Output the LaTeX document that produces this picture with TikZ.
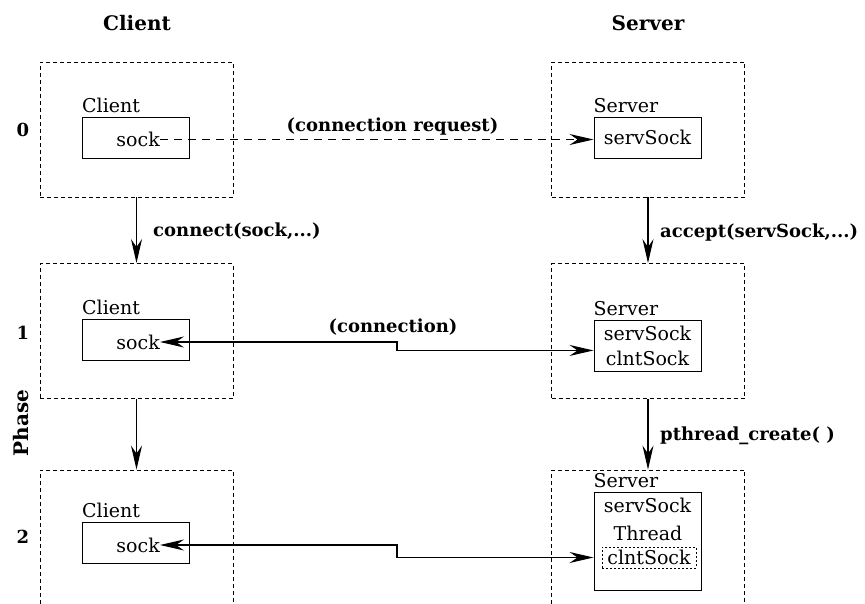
\documentclass[tikz,border=0pt]{standalone}
\usepackage{fontspec}
\setmainfont{DejaVu Serif}
\usetikzlibrary{arrows.meta, positioning}

\begin{document}
\begin{tikzpicture}[
        x=1pt, y=-1pt,
        frame/.style={draw, dash pattern=on 4pt off 3pt, line width=0.9pt, minimum width=193pt, minimum height=135pt, inner sep=0pt},
        sockbox/.style={draw, line width=1pt, minimum width=107pt, minimum height=41pt, inner sep=0pt, font=\fontsize{19}{22}\selectfont},
        txt/.style={inner sep=0pt, font=\fontsize{19}{22}\selectfont},
        lbl/.style={inner sep=0pt, font=\bfseries\fontsize{18}{21}\selectfont},
        hdr/.style={inner sep=0pt, font=\bfseries\fontsize{20}{24}\selectfont},
        line/.style={draw, line width=1.1pt, -{Stealth[length=24pt, width=11pt, inset=8pt]}},
        dline/.style={draw, line width=1.1pt, {Stealth[length=24pt, width=11pt, inset=8pt]}-{Stealth[length=24pt, width=11pt, inset=8pt]}}
    ]
        \useasboundingbox (0,0) rectangle (865,603);

        % headers and phase numbers
        \node [hdr, anchor=base] (hclient) at (137,30) {Client};
        \node [hdr, anchor=base] (hserver) at (648,30) {Server};
        \node [hdr, rotate=90] (phase) at (21,423) {Phase};
        \node [lbl] (p0) at (23,130) {0};
        \node [lbl] (p1) at (23,333) {1};
        \node [lbl] (p2) at (23,537) {2};

        % phase frames
        \node [frame] (c0) at (136.5,129.5) {};
        \node [frame] (c1) at (136.5,331) {};
        \node [frame] (c2) at (136.5,537.5) {};
        \node [frame] (s0) at (648,129.5) {};
        \node [frame] (s1) at (648,331) {};
        \node [frame] (s2) at (648,537.5) {};

        % client side
        \node [sockbox] (cb0) at (136,137.5) {};
        \node [txt, anchor=base west, yshift=4pt] (cl0) at (cb0.north west) {Client};
        \node [txt, anchor=east] (ck0) at (160,139.5) {sock};
        \node [sockbox] (cb1) at (136,339.5) {};
        \node [txt, anchor=base west, yshift=4pt] (cl1) at (cb1.north west) {Client};
        \node [txt, anchor=east] (ck1) at (160,342) {sock};
        \node [sockbox] (cb2) at (136,542.5) {};
        \node [txt, anchor=base west, yshift=4pt] (cl2) at (cb2.north west) {Client};
        \node [txt, anchor=east] (ck2) at (160,545) {sock};

        % server side
        \node [sockbox] (sv0) at (647.5,137.5) {servSock};
        \node [txt, anchor=base west, yshift=4pt] (sl0) at (sv0.north west) {Server};
        \node [sockbox, minimum height=51pt] (sb1) at (647.5,345.5) {};
        \node [txt, anchor=base west, yshift=4pt] (sl1) at (sb1.north west) {Server};
        \node [txt] (ss1) at (647.5,333) {servSock};
        \node [txt] (cs1) at (647.5,358) {clntSock};
        \node [sockbox, minimum height=98pt] (sb2) at (647.5,541) {};
        \node [txt, anchor=base west, yshift=4pt] (sl2) at (sb2.north west) {Server};
        \node [txt] (ss2) at (647.5,505) {servSock};
        \node [txt] (th2) at (648,533) {Thread};
        \node [txt, draw, line width=0.8pt, dash pattern=on 2pt off 2pt, minimum width=94pt, minimum height=21pt] (cs2) at (649,557.5) {clntSock};

        % phase steps
        \path [line] (c0) -- (c1);
        \path [line] (c1) -- (c2);
        \path [line] (s0) -- (s1);
        \path [line] (s1) -- (s2);
        \node [lbl, anchor=base west] (lconnect) at (153,236) {connect(sock,...)};
        \node [lbl, anchor=base west] (laccept) at (660,237) {accept(servSock,...)};
        \node [lbl, anchor=base west] (lthread) at (660,440) {pthread\_create( )};

        % socket links
        \path [line, dash pattern=on 8pt off 6pt] (ck0.east) -- (ck0.east -| sv0.west);
        \node [lbl, anchor=base] (lrequest) at (392.5,131) {(connection request)};
        \coordinate (m1) at (397,346);
        \path [dline] (ck1.east) -| (m1) |- (sb1.west |- cs1.north);
        \node [lbl, anchor=base] (lconn) at (393,332) {(connection)};
        \coordinate (m2) at (397,551);
        \path [dline] (ck2.east) -| (m2) |- (sb2.west |- cs2);
    \end{tikzpicture}
\end{document}
